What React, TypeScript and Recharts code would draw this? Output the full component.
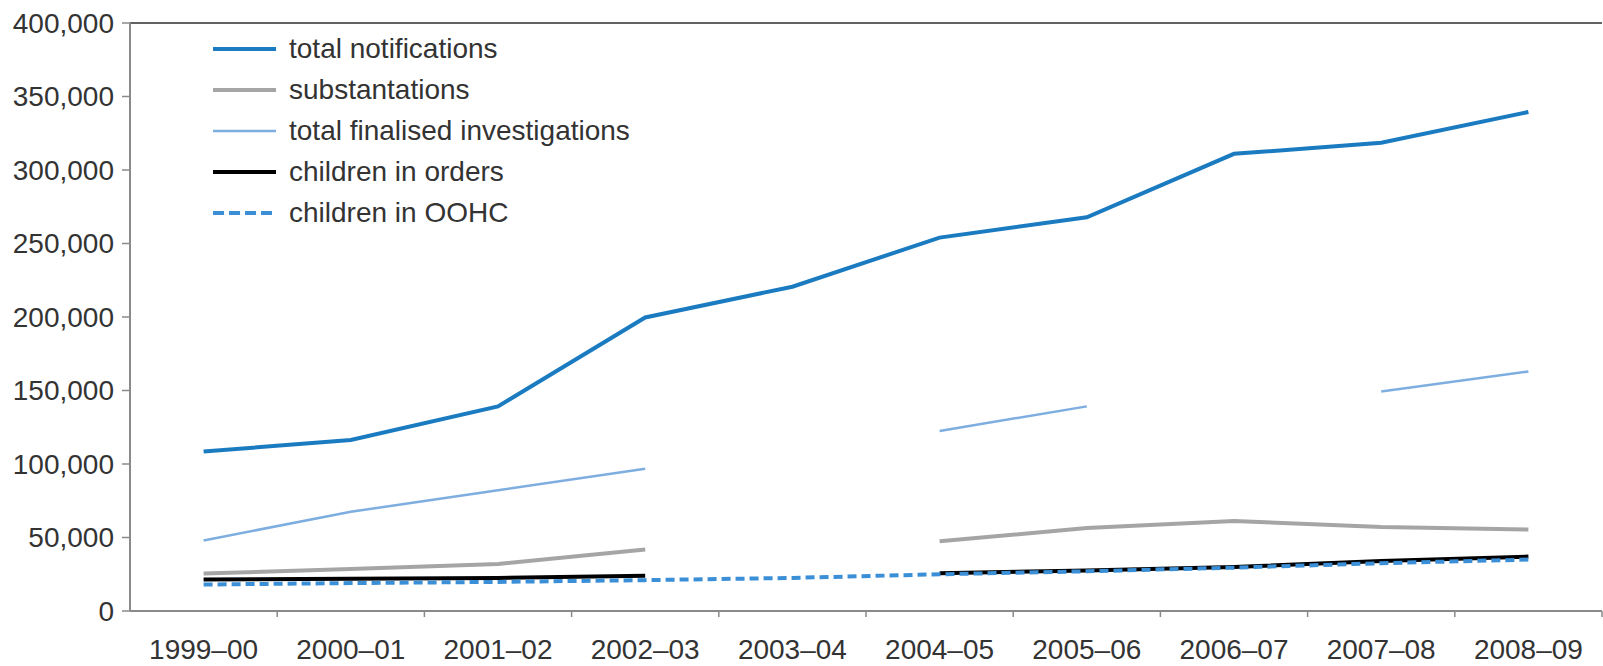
import React from 'react'
import {
  LineChart, Line, XAxis, YAxis, CartesianGrid,
} from 'recharts'

const years = [
  '1999–00', '2000–01', '2001–02', '2002–03', '2003–04',
  '2004–05', '2005–06', '2006–07', '2007–08', '2008–09',
]
const totalNotifications = [108500, 116300, 139200, 199700, 220600, 254000, 267800, 311000, 318500, 339500]
const substantiations = [25500, 28600, 32000, 41800, null, 47400, 56400, 61300, 57100, 55400]
const finalisedInvestigations = [48000, 67500, 82100, 96700, null, 122500, 139200, null, 149300, 162900]
const childrenInOrders = [21400, 22000, 22500, 24000, null, 25700, 27500, 30000, 34000, 37000]
const childrenInOOHC = [18000, 19000, 19800, 21000, 22500, 25000, 27000, 29500, 32500, 35000]
const yTicks = [0, 50000, 100000, 150000, 200000, 250000, 300000, 350000, 400000]

const data = years.map((year, i) => ({
  year,
  notifications: totalNotifications[i],
  substantiations: substantiations[i],
  finalised: finalisedInvestigations[i],
  orders: childrenInOrders[i],
  oohc: childrenInOOHC[i],
}))

const series = [
  { key: 'notifications', name: 'total notifications', color: '#1b7bc1', width: 4, dash: undefined },
  { key: 'substantiations', name: 'substantations', color: '#a5a5a5', width: 4, dash: undefined },
  { key: 'finalised', name: 'total finalised investigations', color: '#7eaee0', width: 2.5, dash: undefined },
  { key: 'orders', name: 'children in orders', color: '#000000', width: 4, dash: undefined },
  { key: 'oohc', name: 'children in OOHC', color: '#3a8fd6', width: 4, dash: '9 5' },
]

const WIDTH = 1603
const HEIGHT = 666
const MARGIN = { top: 23, right: 1, bottom: 0, left: 0 }
const Y_WIDTH = 130
const X_HEIGHT = 55
const FONT = '"Liberation Sans", Arial, sans-serif'
const TEXT = '#333333'
const AXIS = '#8a8a8a'

const plotWidth = WIDTH - MARGIN.left - MARGIN.right - Y_WIDTH
const band = plotWidth / years.length

// category label centred, tick marks on the band edges
function YearTick(props: any) {
  const { x, y, payload, index } = props
  const left = x - band / 2
  const right = x + band / 2
  return (
    <g>
      {index > 0 && (
        <line x1={left} x2={left} y1={y} y2={y + 6} stroke={AXIS} strokeWidth={1.5} />
      )}
      {index === years.length - 1 && (
        <line x1={right} x2={right} y1={y} y2={y + 6} stroke={AXIS} strokeWidth={1.5} />
      )}
      <text x={x} y={y + 48} textAnchor="middle" fontSize={28} fill={TEXT} fontFamily={FONT}>
        {payload.value}
      </text>
    </g>
  )
}

function LegendBox() {
  return (
    <div
      style={{
        position: 'absolute', left: 189, top: 28, width: 465, height: 204,
        background: '#fff', fontFamily: FONT, fontSize: 28, color: TEXT,
      }}
    >
      {series.map((s, i) => (
        <div key={s.key} style={{ position: 'absolute', left: 0, top: i * 41, height: 41, display: 'flex', alignItems: 'center' }}>
          <svg width={100} height={10} style={{ display: 'block' }}>
            <line
              x1={24} x2={87} y1={5} y2={5}
              stroke={s.color} strokeWidth={s.width}
              strokeDasharray={s.dash ? '11 5' : undefined}
            />
          </svg>
          <span style={{ whiteSpace: 'nowrap' }}>{s.name}</span>
        </div>
      ))}
    </div>
  )
}

export default function App() {
  return (
    <div style={{ position: 'absolute', left: 0, top: 0, width: WIDTH, height: HEIGHT, background: '#fff' }}>
      <LineChart width={WIDTH} height={HEIGHT} data={data} margin={MARGIN}>
        <CartesianGrid vertical={false} stroke="#2e2e2e" strokeWidth={1.5} />
        <XAxis
          dataKey="year"
          height={X_HEIGHT}
          padding={{ left: band / 2, right: band / 2 }}
          axisLine={{ stroke: AXIS, strokeWidth: 2 }}
          tickLine={false}
          tickSize={0}
          tickMargin={0}
          interval={0}
          tick={<YearTick />}
        />
        <YAxis
          yAxisId="left"
          width={Y_WIDTH}
          domain={[0, 400000]}
          ticks={yTicks}
          interval={0}
          tickFormatter={(v: number) => v.toLocaleString('en-US')}
          axisLine={{ stroke: AXIS, strokeWidth: 2 }}
          tickLine={{ stroke: AXIS, strokeWidth: 1.5 }}
          tickSize={8}
          tickMargin={8}
          tick={{ fontSize: 28, fill: TEXT, fontFamily: FONT }}
        />
        <YAxis
          yAxisId="frame"
          orientation="right"
          width={0}
          domain={[0, 400000]}
          tick={false}
          tickLine={false}
          axisLine={{ stroke: AXIS, strokeWidth: 2 }}
        />
        {series.map((s) => (
          <Line
            key={s.key}
            yAxisId="left"
            type="linear"
            dataKey={s.key}
            name={s.name}
            stroke={s.color}
            strokeWidth={s.width}
            strokeDasharray={s.dash}
            dot={false}
            activeDot={false}
            isAnimationActive={false}
          />
        ))}
      </LineChart>
      <LegendBox />
    </div>
  )
}
